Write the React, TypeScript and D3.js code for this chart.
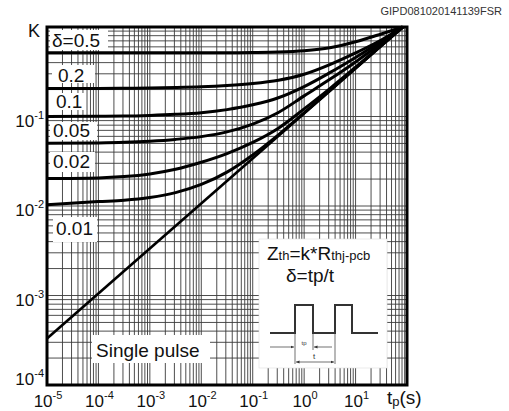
import * as d3 from 'd3';

// Normalised transient thermal impedance K vs pulse duration tp
const W = 509;
const H = 411;

const tValues = [1e-5, 1e-4, 3.16e-4, 1e-3, 3.16e-3, 1e-2, 0.0316, 0.1, 0.316, 1, 3.16, 10, 31.6, 83];
const k05 = [0.515, 0.515, 0.515, 0.515, 0.515, 0.515, 0.5164, 0.5188, 0.5248, 0.543, 0.586, 0.684, 0.836, 1];
const k02 = [0.2056, 0.206, 0.207, 0.2084, 0.2109, 0.2148, 0.2218, 0.2333, 0.254, 0.2965, 0.38, 0.513, 0.716, 1];
const k01 = [0.1, 0.1005, 0.101, 0.1028, 0.1057, 0.1104, 0.1194, 0.135, 0.162, 0.216, 0.309, 0.457, 0.692, 1];
const k005 = [0.0501, 0.0507, 0.0515, 0.053, 0.0555, 0.0596, 0.0673, 0.0822, 0.111, 0.17, 0.26, 0.407, 0.66, 1];
const k002 = [0.0203, 0.0206, 0.0213, 0.0228, 0.0257, 0.0308, 0.0385, 0.0513, 0.0741, 0.1216, 0.205, 0.355, 0.624, 1];
const k001 = [0.0103, 0.0112, 0.0116, 0.01245, 0.0141, 0.0174, 0.0239, 0.0372, 0.0624, 0.1096, 0.195, 0.347, 0.618, 1];
const singleT = [1e-5, 83];
const singleK = [3.3e-4, 1];

const seriesK = [k05, k02, k01, k005, k002, k001];

const xDecades = [-5, -4, -3, -2, -1, 0, 1];
const yDecades = [-4, -3, -2, -1];

const FONT = '"Liberation Sans", Arial, sans-serif';

export default function App() {
  const margin = { top: 27, right: 102, bottom: 26, left: 47 };
  const x = d3.scaleLog().domain([1e-5, 1e2]).range([margin.left, W - margin.right]);
  const y = d3.scaleLog().domain([1e-4, 1]).range([H - margin.bottom, margin.top]);

  const line = d3
    .line<[number, number]>()
    .x((d) => x(d[0]))
    .y((d) => y(d[1]))
    .curve(d3.curveMonotoneX);

  // grid values: 1..9 per decade
  const xGrid: number[] = [];
  for (let d = -5; d <= 1; d++) for (let m = 1; m <= 9; m++) xGrid.push(m * Math.pow(10, d));
  const yGrid: number[] = [];
  for (let d = -4; d <= -1; d++) for (let m = 1; m <= 9; m++) yGrid.push(m * Math.pow(10, d));

  const [x0, x1] = x.range();
  const [y0, y1] = y.range();

  const curves = seriesK.map((ks) => line(tValues.map((t, i) => [t, ks[i]] as [number, number])));
  const single = line(singleT.map((t, i) => [t, singleK[i]] as [number, number]));

  const labels = [
    { text: 'δ=0.5', bx: 50, by: 30, bw: 58, bh: 20, tx: 52, ty: 47 },
    { text: '0.2', bx: 52, by: 65, bw: 43, bh: 18, tx: 58, ty: 82 },
    { text: '0.1', bx: 50, by: 93, bw: 36, bh: 17, tx: 56, ty: 108 },
    { text: '0.05', bx: 50, by: 122, bw: 47, bh: 18, tx: 53, ty: 137 },
    { text: '0.02', bx: 50, by: 152, bw: 45, bh: 20, tx: 53, ty: 168 },
    { text: '0.01', bx: 53, by: 217, bw: 44, bh: 25, tx: 56, ty: 235 },
    { text: 'Single pulse', bx: 92, by: 335, bw: 118, bh: 28, tx: 96, ty: 357 },
  ];

  const pulse: [number, number][] = [
    [270, 333], [295, 333], [295, 305], [313, 305], [313, 333],
    [335, 333], [335, 305], [352, 305], [352, 333], [378, 333],
  ];

  return (
    <div style={{ position: 'absolute', left: 0, top: 0 }}>
      <svg width={W} height={H} style={{ display: 'block', fontFamily: FONT }}>
        <defs>
          <marker id="arr" viewBox="0 0 10 10" refX="10" refY="5" markerWidth="5" markerHeight="5" orient="auto-start-reverse">
            <path d="M0,1 L10,5 L0,9 z" fill="#333" />
          </marker>
        </defs>
        <rect width={W} height={H} fill="#fff" />

        {/* grid */}
        <g stroke="#3a3a3a" strokeWidth={0.9}>
          {xGrid.map((v) => (
            <line key={'x' + v} x1={x(v)} x2={x(v)} y1={y1} y2={y0} />
          ))}
          {yGrid.map((v) => (
            <line key={'y' + v} x1={x0} x2={x1} y1={y(v)} y2={y(v)} />
          ))}
        </g>

        {/* curves */}
        <g fill="none" stroke="#000" strokeWidth={3}>
          {curves.map((d, i) => (
            <path key={i} d={d || ''} />
          ))}
          <path d={single || ''} strokeWidth={2.6} />
        </g>

        {/* label boxes */}
        {labels.map((l) => (
          <g key={l.text}>
            <rect x={l.bx} y={l.by} width={l.bw} height={l.bh} fill="#fff" />
            <text x={l.tx} y={l.ty} fontSize={19} fill="#111">
              {l.text}
            </text>
          </g>
        ))}

        {/* inset */}
        <rect x={259} y={239} width={128} height={129} fill="#fff" stroke="#ddd" strokeWidth={0.6} />
        <text x={267} y={260} fill="#111" fontSize={19}>
          Z<tspan fontSize={13}>th</tspan>=k*R<tspan fontSize={13}>thj-pcb</tspan>
        </text>
        <text x={286} y={282} fill="#111" fontSize={19}>
          δ=tp/t
        </text>
        <path d={d3.line()(pulse) || ''} fill="none" stroke="#333" strokeWidth={2} />
        <g stroke="#333" strokeWidth={0.7} fill="none">
          <line x1={295} x2={295} y1={333} y2={364} />
          <line x1={313} x2={313} y1={333} y2={350} />
          <line x1={335} x2={335} y1={333} y2={364} />
          <line x1={270} x2={294} y1={347} y2={347} markerEnd="url(#arr)" />
          <line x1={332} x2={314} y1={347} y2={347} markerEnd="url(#arr)" />
          <line x1={296} x2={334} y1={362} y2={362} markerStart="url(#arr)" markerEnd="url(#arr)" />
        </g>
        <text x={304} y={345} fontSize={6} textAnchor="middle" fill="#333">
          tp
        </text>
        <text x={314} y={359} fontSize={8} textAnchor="middle" fill="#333">
          t
        </text>

        {/* frame */}
        <rect x={x0} y={y1} width={x1 - x0} height={y0 - y1} fill="none" stroke="#000" strokeWidth={3} />

        {/* axes labels */}
        <text x={28} y={37} fontSize={18} fill="#111">
          K
        </text>
        {yDecades.map((d) => (
          <text key={d} x={44} y={d === -4 ? y(Math.pow(10, d)) : y(Math.pow(10, d)) + 10} fontSize={17} textAnchor="end" fill="#111">
            10
            <tspan fontSize={11} dy={-8}>
              {String(d)}
            </tspan>
          </text>
        ))}
        {xDecades.map((d) => (
          <text key={d} x={x(Math.pow(10, d)) + 1} y={407} fontSize={17} textAnchor="middle" fill="#111">
            10
            <tspan fontSize={11} dy={-8}>
              {String(d)}
            </tspan>
          </text>
        ))}
        <text x={387} y={404} fontSize={19} fill="#111">
          t<tspan fontSize={13} dy={2}>p</tspan>
          <tspan dy={-2}>(s)</tspan>
        </text>
        <text x={502} y={15} fontSize={11} textAnchor="end" fill="#333">
          GIPD081020141139FSR
        </text>
      </svg>
    </div>
  );
}
